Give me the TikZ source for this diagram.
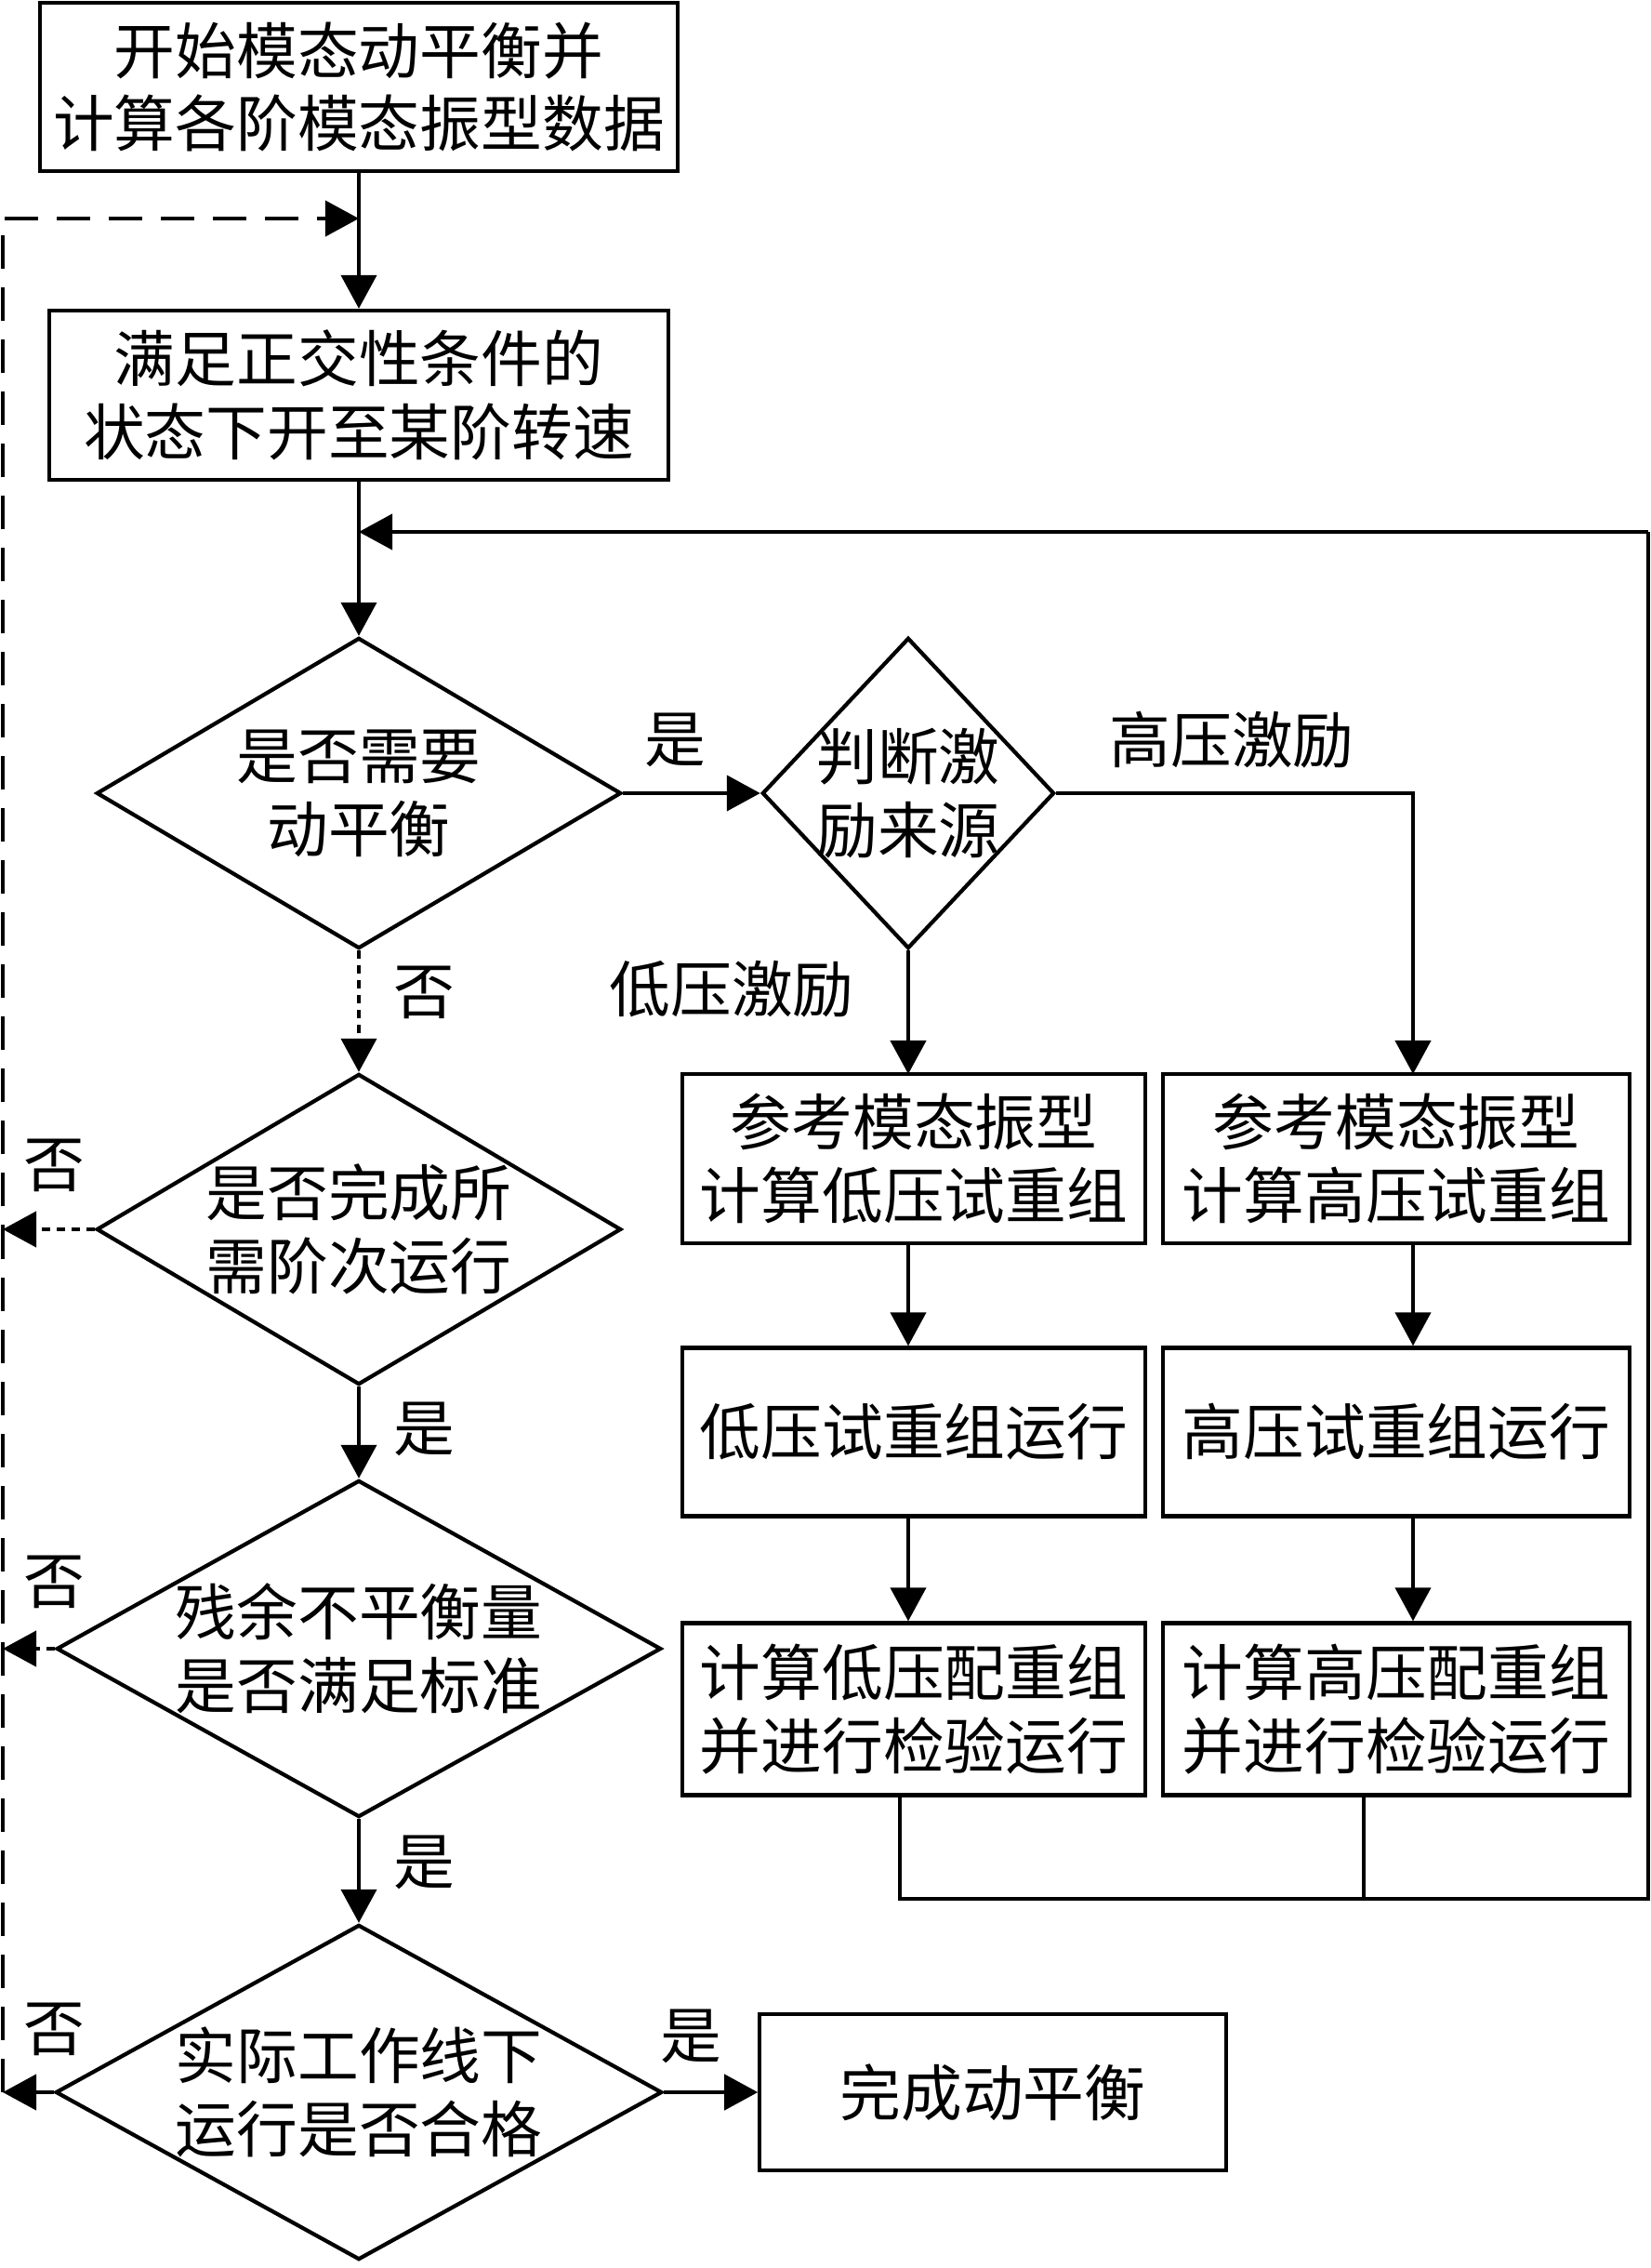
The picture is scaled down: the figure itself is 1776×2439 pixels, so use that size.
\documentclass[tikz,border=0pt]{standalone}
\usepackage{fontspec}
\newfontfamily\cjk{Noto Sans CJK SC}
\usetikzlibrary{arrows.meta}
\usetikzlibrary{shapes.geometric}

\tikzset{
  flowbox/.style={draw,rectangle,align=center,inner sep=0pt},
  decision/.style={draw,diamond,inner sep=0pt},
  lbl/.style={inner sep=0pt},
  dashline/.style={dash pattern=on 0.36cm off 0.2cm},
  dotline/.style={dash pattern=on 0.09cm off 0.07cm},
}

\begin{document}
\begin{tikzpicture}[>={Triangle[length=0.36cm,width=0.38cm]},line join=miter,line width=1.2pt,x=0.01cm,y=-0.01cm,font=\cjk\fontsize{18.7pt}{22.4pt}\selectfont]
%%
\useasboundingbox (0,0) rectangle (1776,2439);
  \node (start) at (386,93.5) [flowbox,minimum width=6.86cm,minimum height=1.81cm] {开始模态动平衡并\\计算各阶模态振型数据};
  \node (speed) at (386,425) [flowbox,minimum width=6.66cm,minimum height=1.82cm] {满足正交性条件的\\状态下开至某阶转速};
  \node (needbal) at (386,853) [decision,minimum width=5.64cm,minimum height=3.34cm,label={[align=center]center:{是否需要\\动平衡}}] {};
  \node (source) at (977,853) [decision,minimum width=3.14cm,minimum height=3.34cm,label={[align=center]center:{判断激\\励来源}}] {};
  \node (order) at (386,1322) [decision,minimum width=5.64cm,minimum height=3.34cm,label={[align=center]center:{是否完成所\\需阶次运行}}] {};
  \node (resid) at (386,1773) [decision,minimum width=6.50cm,minimum height=3.62cm,label={[align=center]center:{残余不平衡量\\是否满足标准}}] {};
  \node (field) at (386,2250) [decision,minimum width=6.52cm,minimum height=3.60cm,label={[align=center]center:{实际工作线下\\运行是否合格}}] {};
  \node (lowA) at (983,1246) [flowbox,minimum width=4.98cm,minimum height=1.82cm] {参考模态振型\\计算低压试重组};
  \node (highA) at (1502,1246) [flowbox,minimum width=5.01cm,minimum height=1.82cm] {参考模态振型\\计算高压试重组};
  \node (lowB) at (983,1540) [flowbox,minimum width=4.98cm,minimum height=1.81cm] {低压试重组运行};
  \node (highB) at (1502,1540) [flowbox,minimum width=5.01cm,minimum height=1.81cm] {高压试重组运行};
  \node (lowC) at (983,1838) [flowbox,minimum width=4.98cm,minimum height=1.85cm] {计算低压配重组\\并进行检验运行};
  \node (highC) at (1502,1838) [flowbox,minimum width=5.01cm,minimum height=1.85cm] {计算高压配重组\\并进行检验运行};
  \node (done) at (1068,2250) [flowbox,minimum width=5.01cm,minimum height=1.68cm] {完成动平衡};
%
  \node (yes1) at (726,796) [lbl] {是};
  \node (hp) at (1325,796) [lbl] {高压激励};
  \node (lp) at (787,1064) [lbl] {低压激励};
  \node (no1) at (456,1067) [lbl] {否};
  \node (no2) at (58,1253) [lbl] {否};
  \node (yes2) at (456,1537) [lbl] {是};
  \node (no3) at (58,1701) [lbl] {否};
  \node (yes3) at (456,2003) [lbl] {是};
  \node (no4) at (58,2182) [lbl] {否};
  \node (yes4) at (743,2190) [lbl] {是};
%
  \coordinate (ltop) at (3,235);
  \coordinate (mtop) at (386,235);
  \coordinate (lcol) at (977,1155);
  \coordinate (hcol) at (1520,1155);
  \coordinate (lowjoin) at (968,2042);
  \coordinate (highjoin) at (1467,2042);
  \coordinate (rcorner) at (1773,2042);
  \coordinate (rtop) at (1773,572);
%
  \draw [->] (start) -- (speed);
  \draw [->] (speed) -- (needbal);
  \draw [->] (needbal) -- (source);
  \draw [->] (source) -- (lcol);
  \draw [->] (source.east) -| (hcol);
  \draw [->] (lowA.south -| lcol) -- (lowB.north -| lcol);
  \draw [->] (lowB.south -| lcol) -- (lowC.north -| lcol);
  \draw [->] (highA.south -| hcol) -- (highB.north -| hcol);
  \draw [->] (highB.south -| hcol) -- (highC.north -| hcol);
  \draw (lowC.south -| lowjoin) -- (lowjoin) -- (rcorner) -- (rtop);
  \draw (highC.south -| highjoin) -- (highjoin);
  \draw [->] (rtop) -- (rtop -| speed);
  \draw [->,dotline] (needbal) -- (order);
  \draw [->] (order) -- (resid);
  \draw [->] (resid) -- (field);
  \draw [->] (field) -- (done);
  \draw [->,dotline] (order.west) -- (order.west -| ltop);
  \draw [->,dotline] (resid.west) -- (resid.west -| ltop);
  \draw [->] (field.west) -- (field.west -| ltop);
  \draw [->,dashline] (field.west -| ltop) -- (ltop) -- (mtop);
%
\end{tikzpicture}
\end{document}
